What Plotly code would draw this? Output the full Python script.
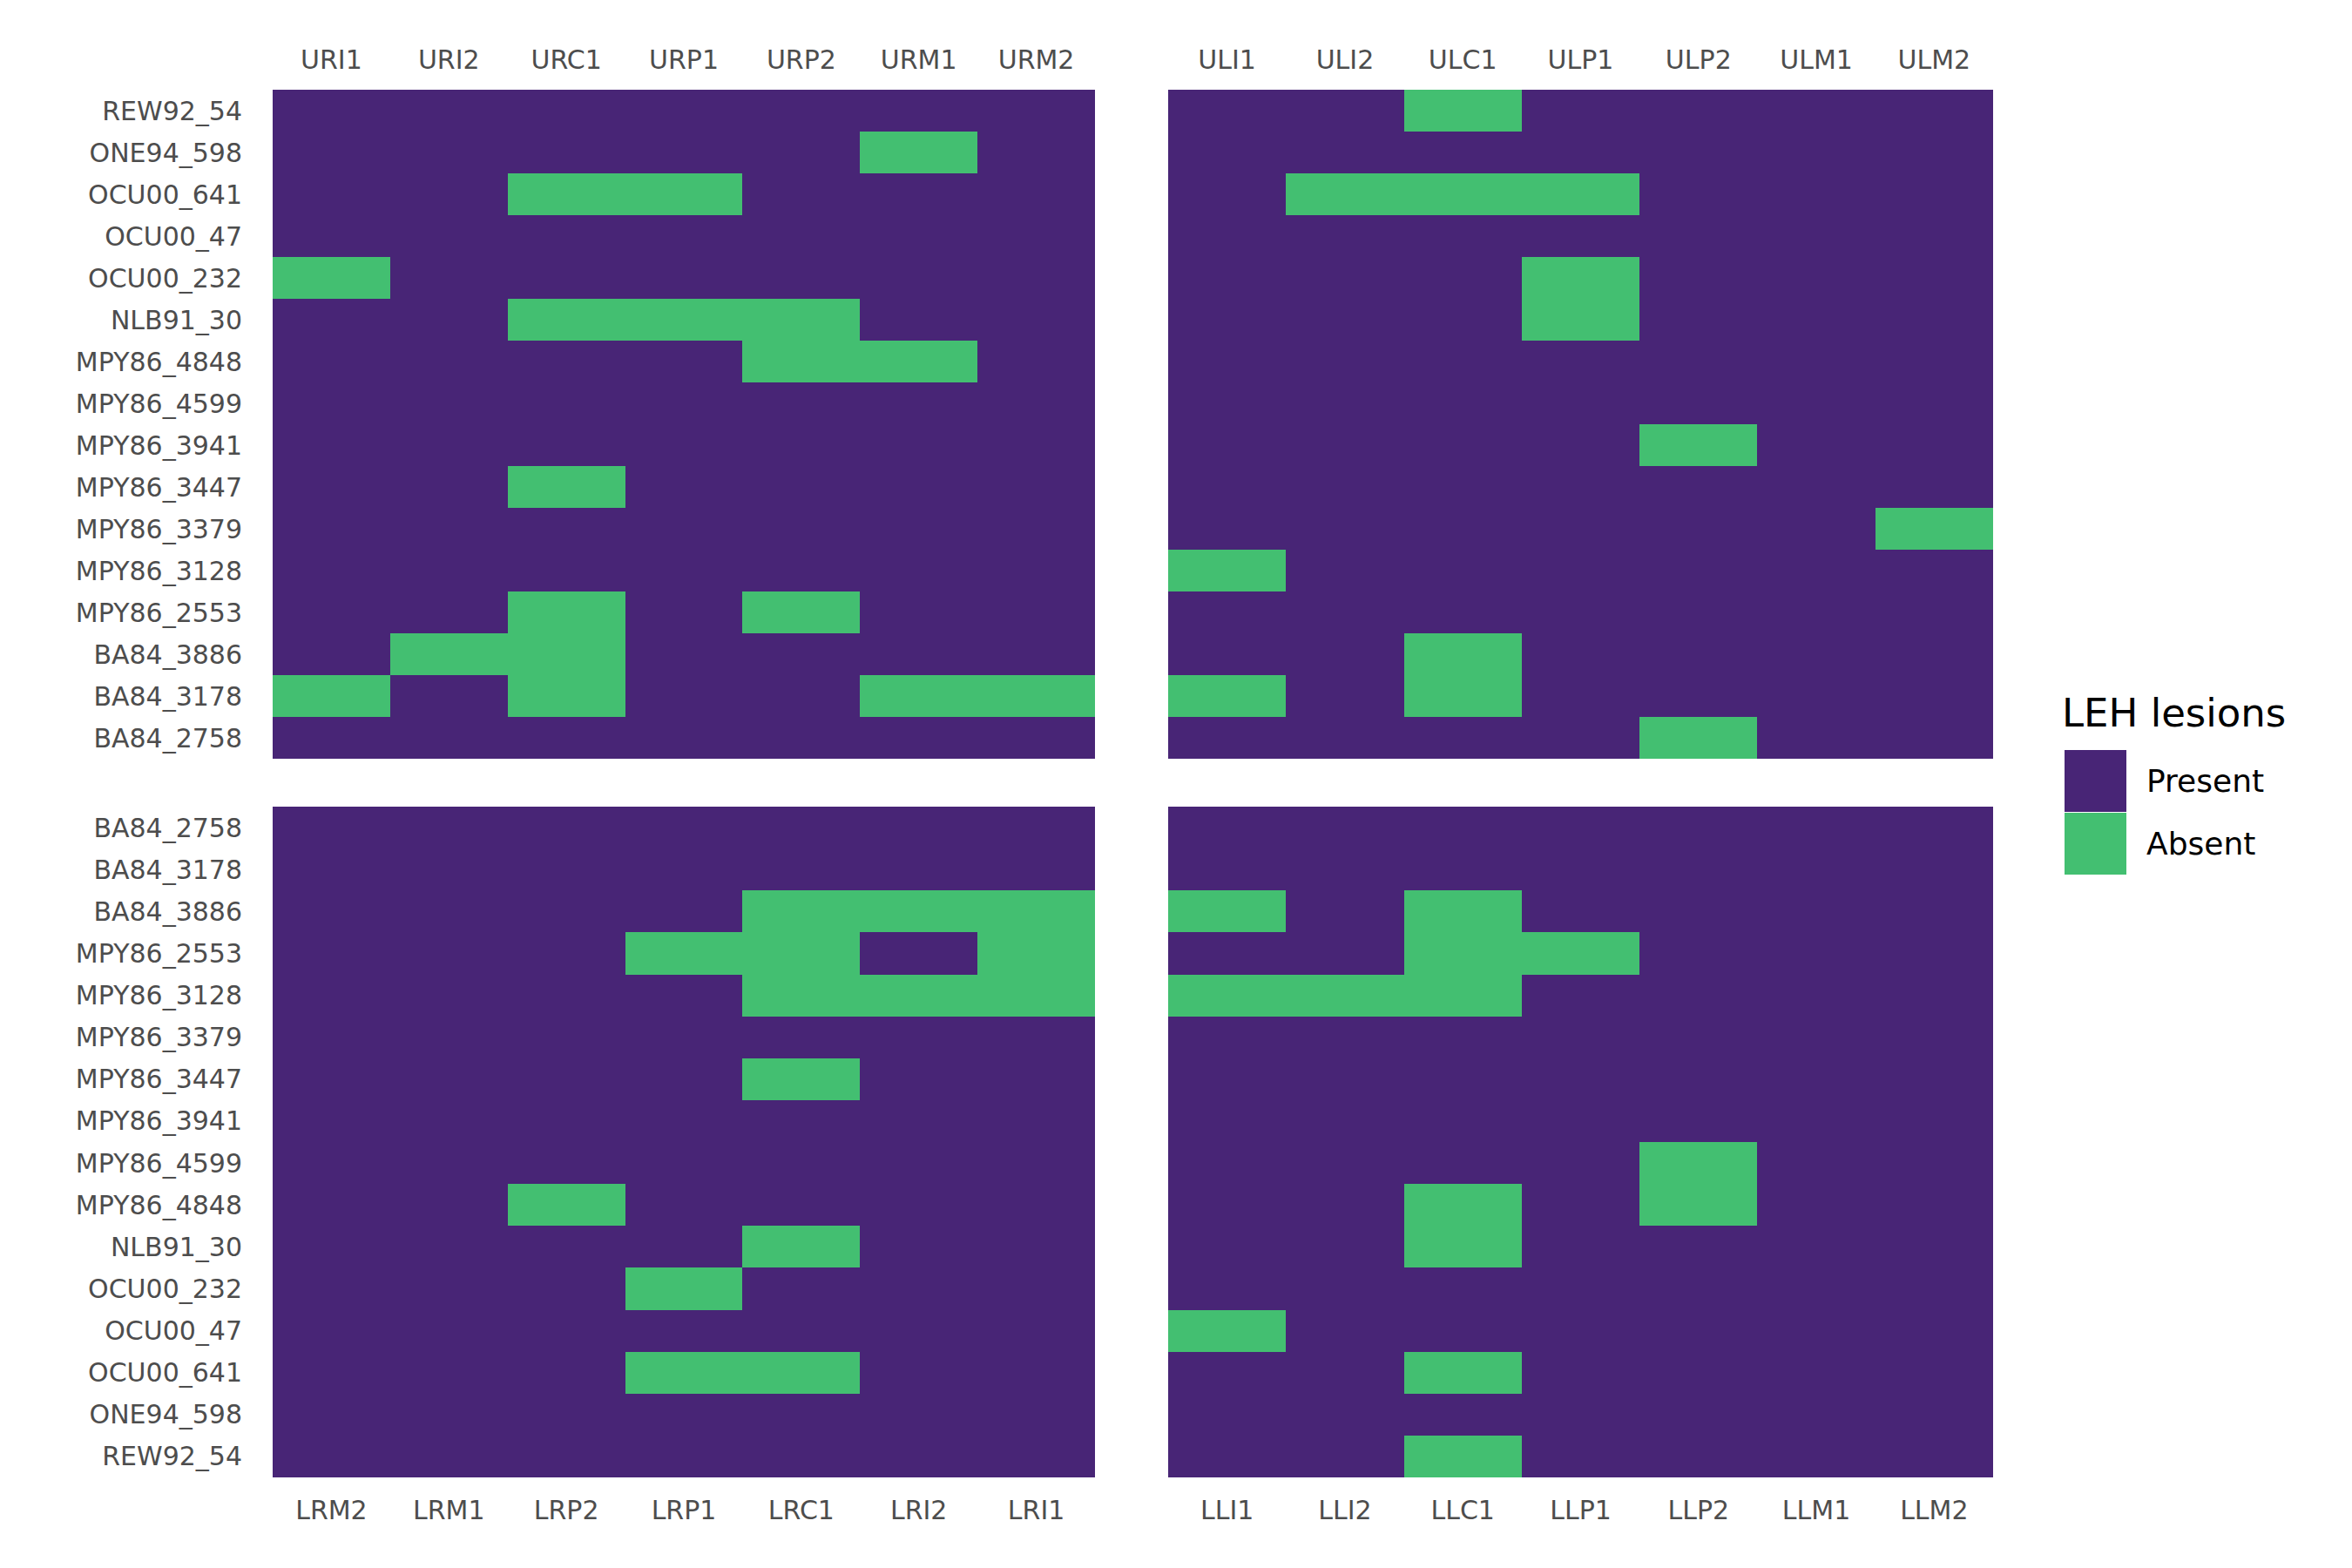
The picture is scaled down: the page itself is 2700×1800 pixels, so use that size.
import plotly.graph_objects as go

# ---------------- data ----------------
specimens = ["BA84_2758", "BA84_3178", "BA84_3886", "MPY86_2553", "MPY86_3128",
             "MPY86_3379", "MPY86_3447", "MPY86_3941", "MPY86_4599", "MPY86_4848",
             "NLB91_30", "OCU00_232", "OCU00_47", "OCU00_641", "ONE94_598", "REW92_54"]

upper_right_teeth = ["URI1", "URI2", "URC1", "URP1", "URP2", "URM1", "URM2"]
upper_left_teeth = ["ULI1", "ULI2", "ULC1", "ULP1", "ULP2", "ULM1", "ULM2"]
lower_right_teeth = ["LRM2", "LRM1", "LRP2", "LRP1", "LRC1", "LRI2", "LRI1"]
lower_left_teeth = ["LLI1", "LLI2", "LLC1", "LLP1", "LLP2", "LLM1", "LLM2"]

# 0 = Present, 1 = Absent ; rows follow `specimens`
upper_right = [
    [0, 0, 0, 0, 0, 0, 0],  # BA84_2758
    [1, 0, 1, 0, 0, 1, 1],  # BA84_3178
    [0, 1, 1, 0, 0, 0, 0],  # BA84_3886
    [0, 0, 1, 0, 1, 0, 0],  # MPY86_2553
    [0, 0, 0, 0, 0, 0, 0],  # MPY86_3128
    [0, 0, 0, 0, 0, 0, 0],  # MPY86_3379
    [0, 0, 1, 0, 0, 0, 0],  # MPY86_3447
    [0, 0, 0, 0, 0, 0, 0],  # MPY86_3941
    [0, 0, 0, 0, 0, 0, 0],  # MPY86_4599
    [0, 0, 0, 0, 1, 1, 0],  # MPY86_4848
    [0, 0, 1, 1, 1, 0, 0],  # NLB91_30
    [1, 0, 0, 0, 0, 0, 0],  # OCU00_232
    [0, 0, 0, 0, 0, 0, 0],  # OCU00_47
    [0, 0, 1, 1, 0, 0, 0],  # OCU00_641
    [0, 0, 0, 0, 0, 1, 0],  # ONE94_598
    [0, 0, 0, 0, 0, 0, 0],  # REW92_54
]
upper_left = [
    [0, 0, 0, 0, 1, 0, 0],  # BA84_2758
    [1, 0, 1, 0, 0, 0, 0],  # BA84_3178
    [0, 0, 1, 0, 0, 0, 0],  # BA84_3886
    [0, 0, 0, 0, 0, 0, 0],  # MPY86_2553
    [1, 0, 0, 0, 0, 0, 0],  # MPY86_3128
    [0, 0, 0, 0, 0, 0, 1],  # MPY86_3379
    [0, 0, 0, 0, 0, 0, 0],  # MPY86_3447
    [0, 0, 0, 0, 1, 0, 0],  # MPY86_3941
    [0, 0, 0, 0, 0, 0, 0],  # MPY86_4599
    [0, 0, 0, 0, 0, 0, 0],  # MPY86_4848
    [0, 0, 0, 1, 0, 0, 0],  # NLB91_30
    [0, 0, 0, 1, 0, 0, 0],  # OCU00_232
    [0, 0, 0, 0, 0, 0, 0],  # OCU00_47
    [0, 1, 1, 1, 0, 0, 0],  # OCU00_641
    [0, 0, 0, 0, 0, 0, 0],  # ONE94_598
    [0, 0, 1, 0, 0, 0, 0],  # REW92_54
]
lower_right = [
    [0, 0, 0, 0, 0, 0, 0],  # BA84_2758
    [0, 0, 0, 0, 0, 0, 0],  # BA84_3178
    [0, 0, 0, 0, 1, 1, 1],  # BA84_3886
    [0, 0, 0, 1, 1, 0, 1],  # MPY86_2553
    [0, 0, 0, 0, 1, 1, 1],  # MPY86_3128
    [0, 0, 0, 0, 0, 0, 0],  # MPY86_3379
    [0, 0, 0, 0, 1, 0, 0],  # MPY86_3447
    [0, 0, 0, 0, 0, 0, 0],  # MPY86_3941
    [0, 0, 0, 0, 0, 0, 0],  # MPY86_4599
    [0, 0, 1, 0, 0, 0, 0],  # MPY86_4848
    [0, 0, 0, 0, 1, 0, 0],  # NLB91_30
    [0, 0, 0, 1, 0, 0, 0],  # OCU00_232
    [0, 0, 0, 0, 0, 0, 0],  # OCU00_47
    [0, 0, 0, 1, 1, 0, 0],  # OCU00_641
    [0, 0, 0, 0, 0, 0, 0],  # ONE94_598
    [0, 0, 0, 0, 0, 0, 0],  # REW92_54
]
lower_left = [
    [0, 0, 0, 0, 0, 0, 0],  # BA84_2758
    [0, 0, 0, 0, 0, 0, 0],  # BA84_3178
    [1, 0, 1, 0, 0, 0, 0],  # BA84_3886
    [0, 0, 1, 1, 0, 0, 0],  # MPY86_2553
    [1, 1, 1, 0, 0, 0, 0],  # MPY86_3128
    [0, 0, 0, 0, 0, 0, 0],  # MPY86_3379
    [0, 0, 0, 0, 0, 0, 0],  # MPY86_3447
    [0, 0, 0, 0, 0, 0, 0],  # MPY86_3941
    [0, 0, 0, 0, 1, 0, 0],  # MPY86_4599
    [0, 0, 1, 0, 1, 0, 0],  # MPY86_4848
    [0, 0, 1, 0, 0, 0, 0],  # NLB91_30
    [0, 0, 0, 0, 0, 0, 0],  # OCU00_232
    [1, 0, 0, 0, 0, 0, 0],  # OCU00_47
    [0, 0, 1, 0, 0, 0, 0],  # OCU00_641
    [0, 0, 0, 0, 0, 0, 0],  # ONE94_598
    [0, 0, 1, 0, 0, 0, 0],  # REW92_54
]

legend_labels = ["Present", "Absent"]
legend_title = "LEH lesions"

# ---------------- style ----------------
PURPLE = "#482576"
GREEN = "#43BF71"
colorscale = [[0, PURPLE], [0.5, PURPLE], [0.5, GREEN], [1, GREEN]]
FONT = "DejaVu Sans"
TICK_FONT = dict(family=FONT, size=30, color="#4D4D4D")

W, H = 2700, 1800
OFF = 8  # page body margin
# target page-pixel positions of the plotting region
P_LEFT, P_RIGHT, P_TOP, P_BOTTOM = 313, 2288, 103, 1696
ML = P_LEFT - OFF
MT = P_TOP - OFF
MR = W - (P_RIGHT - OFF)
MB = H - (P_BOTTOM - OFF)
PW, PH = P_RIGHT - P_LEFT, P_BOTTOM - P_TOP

def px_x(px):
    return (px - P_LEFT) / PW

def px_y(py):
    return (P_BOTTOM - py) / PH

xdom_left = [0, px_x(1257)]
xdom_right = [px_x(1341), 1]
ydom_top = [px_y(871), 1]
ydom_bot = [0, px_y(926)]

fig = go.Figure()

panels = [
    (upper_right, upper_right_teeth, "x", "y"),
    (upper_left, upper_left_teeth, "x2", "y2"),
    (lower_right, lower_right_teeth, "x3", "y3"),
    (lower_left, lower_left_teeth, "x4", "y4"),
]
for z, teeth, xa, ya in panels:
    fig.add_trace(go.Heatmap(
        z=z, x=teeth, y=specimens, xaxis=xa, yaxis=ya,
        colorscale=colorscale, zmin=0, zmax=1, showscale=False,
        xgap=0, ygap=0,
    ))

common_x = dict(type="category", showgrid=False, zeroline=False, showline=False,
                ticks="", tickfont=TICK_FONT, ticklabelstandoff=17)
common_y = dict(type="category", showgrid=False, zeroline=False, showline=False,
                ticks="", tickfont=TICK_FONT, ticklabelstandoff=34)

fig.update_layout(
    width=W, height=H,
    margin=dict(l=ML, r=MR, t=MT, b=MB, pad=0),
    paper_bgcolor="white", plot_bgcolor="white",
    showlegend=False,
    font=dict(family=FONT),
    xaxis=dict(common_x, domain=xdom_left, anchor="y", side="top"),
    yaxis=dict(common_y, domain=ydom_top, anchor="x"),
    xaxis2=dict(common_x, domain=xdom_right, anchor="y2", side="top"),
    yaxis2=dict(common_y, domain=ydom_top, anchor="x2", showticklabels=False),
    xaxis3=dict(common_x, domain=xdom_left, anchor="y3", side="bottom"),
    yaxis3=dict(common_y, domain=ydom_bot, anchor="x3", autorange="reversed"),
    xaxis4=dict(common_x, domain=xdom_right, anchor="y4", side="bottom"),
    yaxis4=dict(common_y, domain=ydom_bot, anchor="x4", autorange="reversed",
                showticklabels=False),
)

# ---------------- legend (drawn) ----------------
key_colors = [PURPLE, GREEN]
key_x0, key_x1 = px_x(2370), px_x(2441)
key_top = 861
key_h = 71
shapes = []
annotations = []
for i, (lab, col) in enumerate(zip(legend_labels, key_colors)):
    y0 = key_top + i * (key_h + 1)
    y1 = y0 + key_h
    shapes.append(dict(type="rect", xref="paper", yref="paper",
                       x0=key_x0, x1=key_x1, y0=px_y(y1), y1=px_y(y0),
                       fillcolor=col, line=dict(width=0), layer="above"))
    annotations.append(dict(text=lab, xref="paper", yref="paper",
                            x=px_x(2462), y=px_y((y0 + y1) / 2),
                            xanchor="left", yanchor="middle", showarrow=False,
                            font=dict(family=FONT, size=36, color="black")))
annotations.append(dict(text=legend_title, xref="paper", yref="paper",
                        x=px_x(2365), y=px_y(818), xanchor="left", yanchor="middle",
                        showarrow=False,
                        font=dict(family=FONT, size=45, color="black")))
fig.update_layout(shapes=shapes, annotations=annotations)

fig.write_html("out.html")
